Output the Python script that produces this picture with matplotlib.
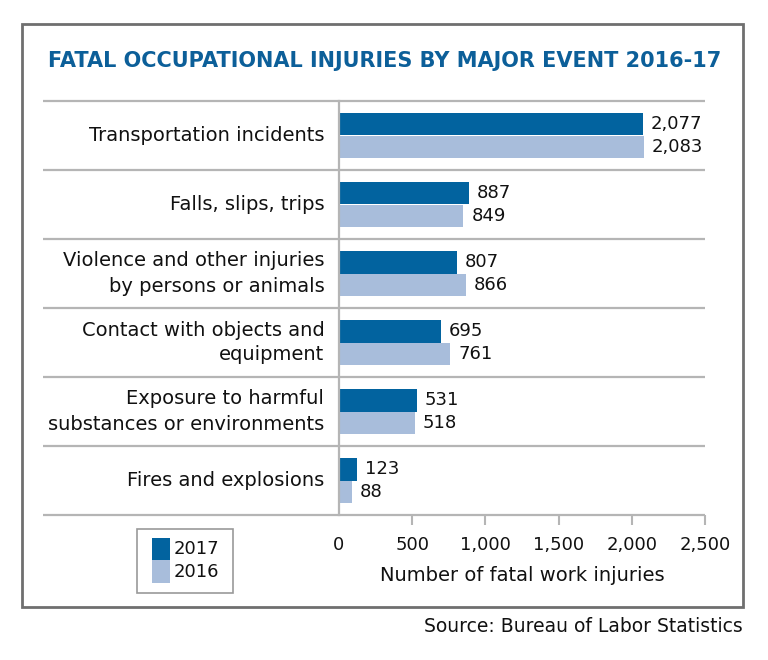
import matplotlib
matplotlib.use("Agg")
import matplotlib.pyplot as plt
from matplotlib.patches import Rectangle

plt.rcParams['font.family'] = ['DejaVu Sans']

categories = ["Transportation incidents",
              "Falls, slips, trips",
              "Violence and other injuries\nby persons or animals",
              "Contact with objects and\nequipment",
              "Exposure to harmful\nsubstances or environments",
              "Fires and explosions"]
vals_2017 = [2077, 887, 807, 695, 531, 123]
vals_2016 = [2083, 849, 866, 761, 518, 88]
xticks = [0, 500, 1000, 1500, 2000, 2500]

DARK = '#02639f'
LIGHT = '#a8bddb'
TITLE = '#0c5f99'
GRID = '#b5b5b5'
INK = '#111111'

W, H = 768, 660
fig = plt.figure(figsize=(W / 100, H / 100), dpi=100)


def fx(x):
    return x / W


def fy(y):
    return 1 - y / H


# outer frame
fig.patches.append(Rectangle((fx(22), fy(607)), fx(743) - fx(22), fy(24) - fy(607),
                             transform=fig.transFigure, fill=False,
                             edgecolor='#6f6f6f', lw=2))

fig.text(fx(385), fy(61), "FATAL OCCUPATIONAL INJURIES BY MAJOR EVENT 2016-17",
         ha='center', va='center', color=TITLE, fontsize=15, fontweight='bold')

ax = fig.add_axes([fx(339), fy(515), fx(705) - fx(339), fy(101) - fy(515)])

n = len(categories)
ys = [i + 0.5 for i in range(n)]
bh = 0.326
ax.barh([y - bh / 2 for y in ys], vals_2017, height=bh, color=DARK, label='2017')
ax.barh([y + bh / 2 for y in ys], vals_2016, height=bh, color=LIGHT, label='2016')

fs = 13
for y, v in zip(ys, vals_2017):
    ax.text(v + 55, y - bh / 2, f"{v:,}", va='center', ha='left', fontsize=fs, color=INK)
for y, v in zip(ys, vals_2016):
    ax.text(v + 55, y + bh / 2, f"{v:,}", va='center', ha='left', fontsize=fs, color=INK)

for y, lab in zip(ys, categories):
    ax.text(-0.04, y, lab, transform=ax.get_yaxis_transform(), ha='right', va='center',
            fontsize=14, color=INK, linespacing=1.4)

# row separators
for b in range(n + 1):
    ax.plot([-0.81, 1.0], [b, b], transform=ax.get_yaxis_transform(), color=GRID,
            lw=1.6, clip_on=False, solid_capstyle='butt', zorder=0)

ax.set_xlim(0, 2500)
ax.set_ylim(n, 0)
ax.set_yticks([])
ax.set_xticks(xticks)
ax.set_xticklabels([f"{t:,}" for t in xticks], fontsize=fs, color=INK)
ax.tick_params(axis='x', length=7, width=1.5, color=GRID, pad=8)
ax.xaxis.get_major_ticks()[0].tick1line.set_visible(False)
for s in ['top', 'right', 'bottom']:
    ax.spines[s].set_visible(False)
ax.spines['left'].set_color(GRID)
ax.spines['left'].set_linewidth(1.6)
ax.set_xlabel("Number of fatal work injuries", fontsize=14, color=INK, labelpad=9)

# legend
fig.patches.append(Rectangle((fx(137), fy(593)), fx(233) - fx(137), fy(529) - fy(593),
                             transform=fig.transFigure, fill=False, edgecolor='#999999', lw=1.2))
fig.patches.append(Rectangle((fx(152), fy(560)), fx(170) - fx(152), fy(538) - fy(560),
                             transform=fig.transFigure, color=DARK, lw=0))
fig.patches.append(Rectangle((fx(152), fy(583)), fx(170) - fx(152), fy(560) - fy(583),
                             transform=fig.transFigure, color=LIGHT, lw=0))
fig.text(fx(174), fy(549), "2017", ha='left', va='center', fontsize=fs, color=INK)
fig.text(fx(174), fy(572), "2016", ha='left', va='center', fontsize=fs, color=INK)

fig.text(fx(743), fy(627), "Source: Bureau of Labor Statistics", ha='right', va='center',
         fontsize=13.5, color=INK)

fig.savefig("out.png", dpi=100)
